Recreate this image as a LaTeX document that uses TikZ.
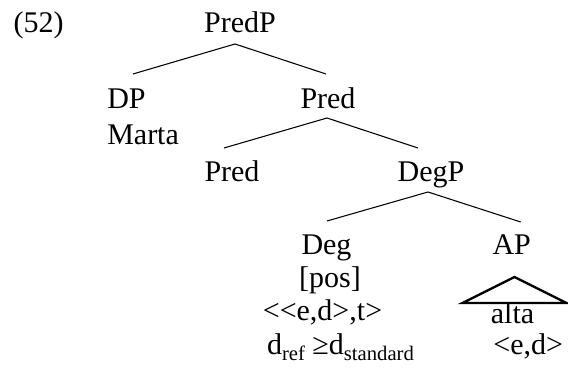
\documentclass[tikz,border=0pt]{standalone}
\usepackage{fontspec}
\setmainfont{Liberation Serif}
\usetikzlibrary{calc}
\newcommand\lowsub[1]{\raisebox{-4pt}{\fontsize{15.5}{16}\selectfont #1}}
\tikzset{
    lbl/.style={inner sep=0pt, anchor=base, font=\fontsize{22.5}{27}\selectfont},
    branch/.style={line width=0.8pt},
    roof/.style={line width=1.8pt},
}

\begin{document}
\begin{tikzpicture}[x=0.75pt, y=-0.75pt]
    \useasboundingbox (0,0) rectangle (568,370);

    \node[lbl] (ex) at (38.5,33) {(52)};
    \node[lbl] (predp) at (240,33) {PredP};

    \node[lbl, anchor=base west] (dp) at (107,109) {DP};
    \node[lbl, anchor=base west] (marta) at (107,145) {Marta};
    \node[lbl] (pred1) at (328,109) {Pred};

    \node[lbl] (pred2) at (232,182) {Pred};
    \node[lbl] (degp) at (431,182) {DegP};

    \node[lbl] (deg) at (326.5,255) {Deg};
    \node[lbl] (pos) at (330,288) {[pos]};
    \node[lbl] (degtype) at (322.5,321) {{<}{<}e,d>,t>};
    \node[lbl] (degsem) at (340.5,355) {d\lowsub{ref} ≥d\lowsub{standard}};

    \node[lbl] (ap) at (511.7,255) {AP};
    \node[lbl] (alta) at (512.5,324) {alta};
    \node[lbl] (aptype) at (528.3,355) {<e,d>};

    \draw[branch] ($(predp.base)+(-5,11)$) -- ($(dp.base west)+(26,-35)$);
    \draw[branch] ($(predp.base)+(-5,11)$) -- ($(pred1.base)+(-2,-35)$);
    \draw[branch] ($(pred1.base)+(-1,9)$) -- ($(pred2.base)+(-8,-34)$);
    \draw[branch] ($(pred1.base)+(-1,9)$) -- ($(degp.base)+(-13,-34)$);
    \draw[branch] ($(degp.base)+(-3,10)$) -- ($(deg.base)+(0.5,-34)$);
    \draw[branch] ($(degp.base)+(-3,10)$) -- ($(ap.base)+(9,-33)$);
    \draw[roof] ($(alta.base)+(2,-47)$) -- ($(alta.base)+(-50,-21)$) -- ($(alta.base)+(54,-21)$) -- cycle;
\end{tikzpicture}
\end{document}
